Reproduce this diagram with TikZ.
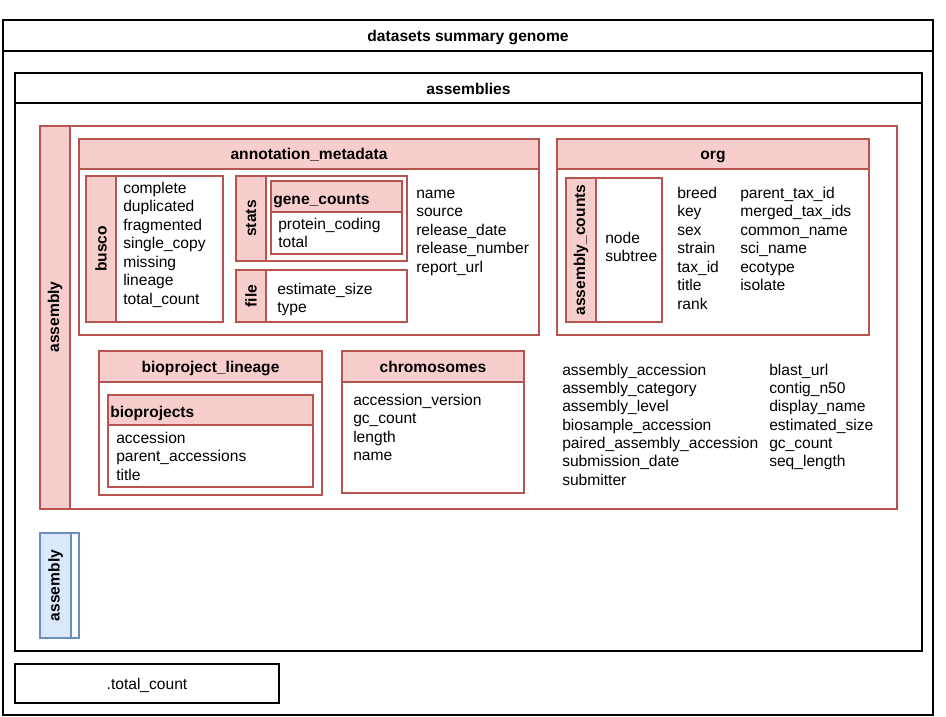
\documentclass[tikz,border=0pt]{standalone}
\usepackage{fontspec}
\setmainfont{Liberation Sans}
\usepackage{xcolor}
\usepackage{tikz}
\usetikzlibrary{positioning}
\definecolor{redfill}{HTML}{F8CECC}
\definecolor{redline}{HTML}{B85450}
\definecolor{bluefill}{HTML}{DAE8FC}
\definecolor{blueline}{HTML}{6C8EBF}
\tikzset{
  blackbox/.style={draw=black, line width=0.9pt, fill=white},
  redbox/.style={draw=redline, line width=0.8pt, fill=white},
  redhead/.style={draw=redline, line width=0.8pt, fill=redfill},
  bluebox/.style={draw=blueline, line width=0.8pt, fill=white},
  bluehead/.style={draw=blueline, line width=0.8pt, fill=bluefill},
  title/.style={font=\fontsize{11.7}{13.9}\selectfont\bfseries, inner sep=0pt, anchor=base},
  sidetitle/.style={title, anchor=center, rotate=90},
  field/.style={anchor=base west, inner sep=0pt}
}

\begin{document}
\begin{tikzpicture}[x=0.75pt, y=-0.75pt, font=\fontsize{11.7}{13.9}\selectfont]

            \useasboundingbox (0,0) rectangle (946,717);

            % Outer boxes
            \draw[blackbox] (3,20) rectangle (933,715);
            \draw[blackbox] (3,20) rectangle (933,51);
            \node[title] (summary) at (468,41.5) {datasets summary genome};
            \draw[blackbox] (15,73) rectangle (922,651);
            \draw[blackbox] (15,73) rectangle (922,103);
            \node[title] (assemblies) at (468.5,94) {assemblies};

            % assembly lane
            \draw[redbox] (40,126) rectangle (897,509);
            \draw[redhead] (40,126) rectangle (70,509);
            \node[sidetitle] (assembly) at (55,317) {assembly};

            % annotation_metadata
            \draw[redbox] (79,139) rectangle (539,335);
            \draw[redhead] (79,139) rectangle (539,169);
            \node[title] (annot) at (309,159) {annotation\_metadata};

            \draw[redbox] (86,176) rectangle (223,322);
            \draw[redhead] (86,176) rectangle (116,322);
            \node[sidetitle] (busco) at (101,249) {busco};
            \foreach \t [count=\i] in {complete,duplicated,fragmented,single\_copy,missing,lineage,total\_count}
                \node[field] (busco-\i) at (123,{193+18.5*(\i-1)}) {\t};

            \draw[redbox] (236,176) rectangle (407,261);
            \draw[redhead] (236,176) rectangle (266,261);
            \node[sidetitle] (stats) at (251,218.5) {stats};
            \draw[redbox] (271,181) rectangle (402,254);
            \draw[redhead] (271,181) rectangle (402,212);
            \node[title, anchor=base west] (genecounts) at (273,204) {gene\_counts};
            \foreach \t [count=\i] in {protein\_coding,total}
                \node[field] (gene-\i) at (278,{229+18.5*(\i-1)}) {\t};

            \draw[redbox] (236,270) rectangle (407,322);
            \draw[redhead] (236,270) rectangle (266,322);
            \node[sidetitle] (file) at (251,296) {file};
            \foreach \t [count=\i] in {estimate\_size,type}
                \node[field] (file-\i) at (277,{294+18.5*(\i-1)}) {\t};

            \foreach \t [count=\i] in {name,source,release\_date,release\_number,report\_url}
                \node[field] (annot-\i) at (416,{198+18.5*(\i-1)}) {\t};

            % org
            \draw[redbox] (557,139) rectangle (869,335);
            \draw[redhead] (557,139) rectangle (869,169);
            \node[title] (org) at (713,159) {org};

            \draw[redbox] (566,178) rectangle (662,322);
            \draw[redhead] (566,178) rectangle (596,322);
            \node[sidetitle] (counts) at (581,250) {assembly\_counts};
            \foreach \t [count=\i] in {node,subtree}
                \node[field] (counts-\i) at (605,{243+18.5*(\i-1)}) {\t};

            \foreach \t [count=\i] in {breed,key,sex,strain,tax\_id,title,rank}
                \node[field] (orga-\i) at (677,{198+18.5*(\i-1)}) {\t};
            \foreach \t [count=\i] in {parent\_tax\_id,merged\_tax\_ids,common\_name,sci\_name,ecotype,isolate}
                \node[field] (orgb-\i) at (740,{198+18.5*(\i-1)}) {\t};

            % bioproject_lineage
            \draw[redbox] (99,351) rectangle (322,495);
            \draw[redhead] (99,351) rectangle (322,382);
            \node[title] (lineage) at (210.5,372) {bioproject\_lineage};
            \draw[redbox] (108,395) rectangle (313,487);
            \draw[redhead] (108,395) rectangle (313,425);
            \node[title, anchor=base west] (bioprojects) at (110,417) {bioprojects};
            \foreach \t [count=\i] in {accession,parent\_accessions,title}
                \node[field] (bio-\i) at (116,{443+18.5*(\i-1)}) {\t};

            % chromosomes
            \draw[redbox] (342,351) rectangle (524,493);
            \draw[redhead] (342,351) rectangle (524,382);
            \node[title] (chromosomes) at (433,372) {chromosomes};
            \foreach \t [count=\i] in {accession\_version,gc\_count,length,name}
                \node[field] (chrom-\i) at (353,{405+18.5*(\i-1)}) {\t};

            % assembly fields
            \foreach \t [count=\i] in {assembly\_accession,assembly\_category,assembly\_level,biosample\_accession,paired\_assembly\_accession,submission\_date,submitter}
                \node[field] (asma-\i) at (562,{375+18.35*(\i-1)}) {\t};
            \foreach \t [count=\i] in {blast\_url,contig\_n50,display\_name,estimated\_size,gc\_count,seq\_length}
                \node[field] (asmb-\i) at (769,{375+18.35*(\i-1)}) {\t};

            % second assembly
            \draw[bluebox] (40,533) rectangle (79,638);
            \draw[bluehead] (40,533) rectangle (71,638);
            \node[sidetitle] (assembly2) at (55.5,585.5) {assembly};

            % total_count
            \draw[blackbox] (15,664) rectangle (279,703);
            \node[inner sep=0pt, anchor=base] (total) at (147,689) {.total\_count};

\end{tikzpicture}
\end{document}
